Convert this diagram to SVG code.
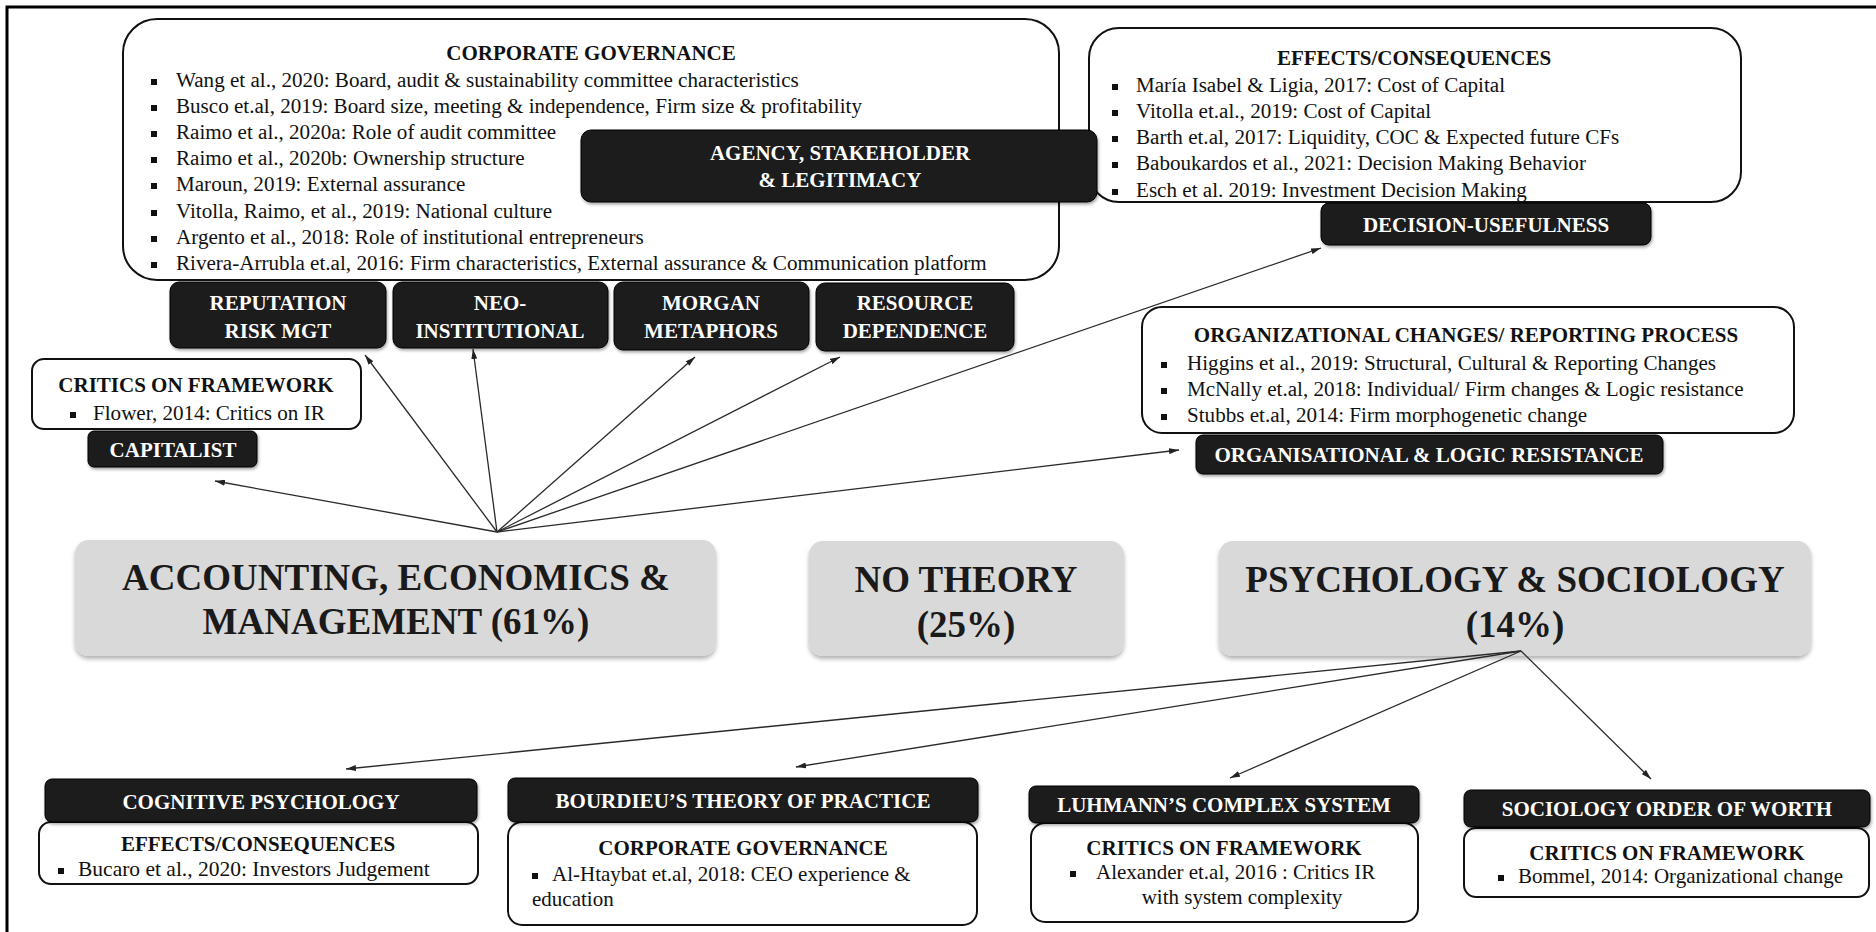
<svg xmlns="http://www.w3.org/2000/svg" width="1876" height="932" viewBox="0 0 1876 932">
<defs>
<style>
text{font-family:"Liberation Serif","Times New Roman",serif;}
.b{font-size:21.1px;fill:#111;}
.bs{font-size:21px;fill:#111;}
.h{font-size:21px;font-weight:bold;fill:#111;text-anchor:middle;}
.dt{font-size:21px;font-weight:bold;fill:#fff;text-anchor:middle;}
.big{font-size:37px;font-weight:bold;fill:#1a1a1a;text-anchor:middle;}
.wb{fill:#fff;stroke:#111;stroke-width:2;}
.dk{fill:#1c1c1c;stroke:#000;stroke-width:1;filter:url(#sh);}
.gr{fill:#d9d9d9;filter:url(#sh2);}
.bul{fill:#111;}
.cn line{stroke:#2a2a2a;stroke-width:1.3;marker-end:url(#ah);}
</style>
<filter id="sh" x="-5%" y="-20%" width="110%" height="150%"><feDropShadow dx="1" dy="2" stdDeviation="1.5" flood-color="#000" flood-opacity="0.35"/></filter>
<filter id="sh2" x="-5%" y="-10%" width="110%" height="130%"><feDropShadow dx="0" dy="3" stdDeviation="2" flood-color="#000" flood-opacity="0.3"/></filter>
<marker id="ah" viewBox="0 0 10 6" refX="10" refY="3" markerWidth="10" markerHeight="6" markerUnits="userSpaceOnUse" orient="auto"><path d="M0,0 L10,3 L0,6 z" fill="#222"/></marker>
</defs>
<rect width="1876" height="932" fill="#fff"/>
<path d="M7,940 V7 H1885" fill="none" stroke="#000" stroke-width="3"/>

<g id="cg-top">
<rect class="wb" x="123" y="19" width="936" height="261" rx="34"/>
<text class="h" x="591" y="60">CORPORATE GOVERNANCE</text>
<rect class="bul" x="151" y="79" width="6" height="6"/><text class="b" x="176" y="87">Wang et al., 2020: Board, audit &amp; sustainability committee characteristics</text>
<rect class="bul" x="151" y="105" width="6" height="6"/><text class="b" x="176" y="113">Busco et.al, 2019: Board size, meeting &amp; independence, Firm size &amp; profitability</text>
<rect class="bul" x="151" y="131" width="6" height="6"/><text class="b" x="176" y="139">Raimo et al., 2020a: Role of audit committee</text>
<rect class="bul" x="151" y="157" width="6" height="6"/><text class="b" x="176" y="165">Raimo et al., 2020b: Ownership structure</text>
<rect class="bul" x="151" y="183" width="6" height="6"/><text class="b" x="176" y="191">Maroun, 2019: External assurance</text>
<rect class="bul" x="151" y="210" width="6" height="6"/><text class="b" x="176" y="218">Vitolla, Raimo, et al., 2019: National culture</text>
<rect class="bul" x="151" y="236" width="6" height="6"/><text class="b" x="176" y="244">Argento et al., 2018: Role of institutional entrepreneurs</text>
<rect class="bul" x="151" y="262" width="6" height="6"/><text class="b" x="176" y="270">Rivera-Arrubla et.al, 2016: Firm characteristics, External assurance &amp; Communication platform</text>
</g>

<g id="effects-top">
<rect class="wb" x="1089" y="28" width="652" height="174" rx="30"/>
<text class="h" x="1414" y="65">EFFECTS/CONSEQUENCES</text>
<rect class="bul" x="1112" y="84" width="6" height="6"/><text class="b" x="1136" y="92">María Isabel &amp; Ligia, 2017: Cost of Capital</text>
<rect class="bul" x="1112" y="110" width="6" height="6"/><text class="b" x="1136" y="118">Vitolla et.al., 2019: Cost of Capital</text>
<rect class="bul" x="1112" y="136" width="6" height="6"/><text class="b" x="1136" y="144">Barth et.al, 2017: Liquidity, COC &amp; Expected future CFs</text>
<rect class="bul" x="1112" y="162" width="6" height="6"/><text class="b" x="1136" y="170">Baboukardos et al., 2021: Decision Making Behavior</text>
<rect class="bul" x="1112" y="189" width="6" height="6"/><text class="b" x="1136" y="197">Esch et al. 2019: Investment Decision Making</text>
</g>

<g id="agency">
<rect class="dk" x="581" y="130" width="516" height="72" rx="10"/>
<text class="dt" x="840" y="160">AGENCY, STAKEHOLDER</text>
<text class="dt" x="840" y="187">&amp; LEGITIMACY</text>
</g>

<g id="decision">
<rect class="dk" x="1321" y="203" width="330" height="42" rx="8"/>
<text class="dt" x="1486" y="232">DECISION-USEFULNESS</text>
</g>

<g id="reputation">
<rect class="dk" x="170" y="282" width="216" height="66" rx="9"/>
<text class="dt" x="278" y="310">REPUTATION</text>
<text class="dt" x="278" y="338">RISK MGT</text>
</g>
<g id="neo">
<rect class="dk" x="393" y="282" width="215" height="66" rx="9"/>
<text class="dt" x="500" y="310">NEO-</text>
<text class="dt" x="500" y="338">INSTITUTIONAL</text>
</g>
<g id="morgan">
<rect class="dk" x="614" y="282" width="195" height="68" rx="9"/>
<text class="dt" x="711" y="310">MORGAN</text>
<text class="dt" x="711" y="338">METAPHORS</text>
</g>
<g id="resource">
<rect class="dk" x="816" y="283" width="198" height="68" rx="9"/>
<text class="dt" x="915" y="310">RESOURCE</text>
<text class="dt" x="915" y="338">DEPENDENCE</text>
</g>

<g id="critics-left">
<rect class="wb" x="32" y="359" width="329" height="70" rx="12"/>
<text class="h" x="196" y="392">CRITICS ON FRAMEWORK</text>
<rect class="bul" x="70" y="412" width="6" height="6"/><text class="b" x="93" y="420">Flower, 2014: Critics on IR</text>
</g>
<g id="capitalist">
<rect class="dk" x="88" y="431" width="169" height="36" rx="6"/>
<text class="dt" x="173" y="457">CAPITALIST</text>
</g>

<g id="org-changes">
<rect class="wb" x="1142" y="307" width="652" height="126" rx="20"/>
<text class="h" x="1466" y="342">ORGANIZATIONAL CHANGES/ REPORTING PROCESS</text>
<rect class="bul" x="1161" y="362" width="6" height="6"/><text class="b" x="1187" y="370">Higgins et al., 2019: Structural, Cultural &amp; Reporting Changes</text>
<rect class="bul" x="1161" y="388" width="6" height="6"/><text class="b" x="1187" y="396">McNally et.al, 2018: Individual/ Firm changes &amp; Logic resistance</text>
<rect class="bul" x="1161" y="414" width="6" height="6"/><text class="b" x="1187" y="422">Stubbs et.al, 2014: Firm morphogenetic change</text>
</g>
<g id="resistance">
<rect class="dk" x="1196" y="435" width="467" height="39" rx="7"/>
<text class="dt" x="1429" y="462">ORGANISATIONAL &amp; LOGIC RESISTANCE</text>
</g>

<g id="accounting">
<rect class="gr" x="75" y="540" width="641" height="116" rx="14"/>
<text class="big" x="396" y="590">ACCOUNTING, ECONOMICS &amp;</text>
<text class="big" x="396" y="634">MANAGEMENT (61%)</text>
</g>
<g id="no-theory">
<rect class="gr" x="809" y="541" width="315" height="115" rx="14"/>
<text class="big" x="966" y="592">NO THEORY</text>
<text class="big" x="966" y="637">(25%)</text>
</g>
<g id="psychology">
<rect class="gr" x="1219" y="541" width="592" height="115" rx="14"/>
<text class="big" x="1515" y="592">PSYCHOLOGY &amp; SOCIOLOGY</text>
<text class="big" x="1515" y="637">(14%)</text>
</g>

<g id="cognitive">
<rect class="wb" x="39" y="822" width="439" height="62" rx="12"/>
<rect class="dk" x="45" y="779" width="432" height="43" rx="7"/>
<text class="dt" x="261" y="809">COGNITIVE PSYCHOLOGY</text>
<text class="h" x="258" y="851">EFFECTS/CONSEQUENCES</text>
<rect class="bul" x="58" y="868" width="6" height="6"/><text class="bs" x="78" y="876" style="font-size:21.5px">Bucaro et al., 2020: Investors Judgement</text>
</g>

<g id="bourdieu">
<rect class="wb" x="508" y="822" width="469" height="103" rx="14"/>
<rect class="dk" x="508" y="778" width="470" height="44" rx="7"/>
<text class="dt" x="743" y="808">BOURDIEU’S THEORY OF PRACTICE</text>
<text class="h" x="743" y="855">CORPORATE GOVERNANCE</text>
<rect class="bul" x="532" y="873" width="6" height="6"/><text class="bs" x="552" y="881">Al-Htaybat et.al, 2018: CEO experience &amp;</text>
<text class="bs" x="532" y="906">education</text>
</g>

<g id="luhmann">
<rect class="wb" x="1031" y="823" width="387" height="99" rx="14"/>
<rect class="dk" x="1029" y="786" width="390" height="37" rx="7"/>
<text class="dt" x="1224" y="812">LUHMANN’S COMPLEX SYSTEM</text>
<text class="h" x="1224" y="855">CRITICS ON FRAMEWORK</text>
<rect class="bul" x="1070" y="871" width="6" height="6"/><text class="bs" x="1096" y="879">Alexander et.al, 2016 : Critics IR</text>
<text class="bs" x="1242" y="904" text-anchor="middle">with system complexity</text>
</g>

<g id="sociology">
<rect class="wb" x="1464" y="828" width="405" height="69" rx="12"/>
<rect class="dk" x="1464" y="790" width="406" height="37" rx="7"/>
<text class="dt" x="1667" y="816">SOCIOLOGY ORDER OF WORTH</text>
<text class="h" x="1667" y="860">CRITICS ON FRAMEWORK</text>
<rect class="bul" x="1498" y="875" width="6" height="6"/><text class="bs" x="1518" y="883">Bommel, 2014: Organizational change</text>
</g>

<g id="connectors" class="cn">
<line x1="497" y1="532" x2="215" y2="481"/>
<line x1="497" y1="532" x2="365" y2="355"/>
<line x1="497" y1="532" x2="473" y2="349"/>
<line x1="497" y1="532" x2="695" y2="357"/>
<line x1="497" y1="532" x2="840" y2="357"/>
<line x1="497" y1="532" x2="1321" y2="248"/>
<line x1="497" y1="532" x2="1179" y2="450"/>
<line x1="1521" y1="651" x2="346" y2="769"/>
<line x1="1521" y1="651" x2="796" y2="767"/>
<line x1="1521" y1="651" x2="1230" y2="778"/>
<line x1="1521" y1="651" x2="1651" y2="779"/>
</g>
</svg>
